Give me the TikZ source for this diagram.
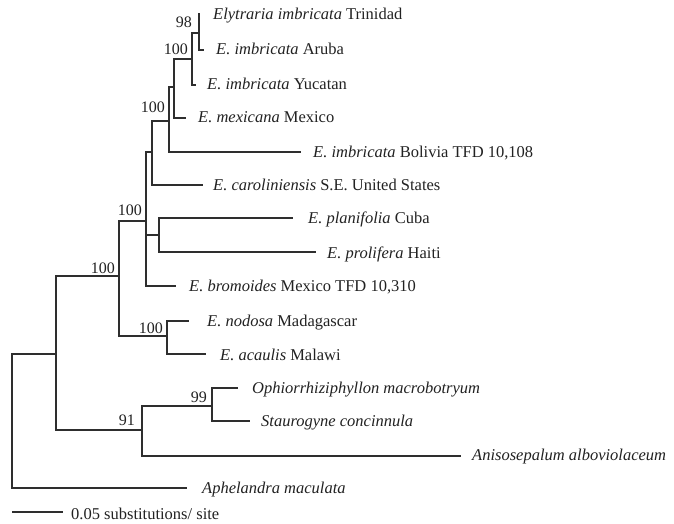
\documentclass[tikz,border=0pt]{standalone}
\usepackage{fontspec}
\setmainfont{Liberation Serif}
\definecolor{ink}{HTML}{222222}
\definecolor{branchc}{HTML}{2E2E2E}
\tikzset{
  leaf/.style={anchor=west, inner sep=0pt, text height=11pt, text depth=0pt, text=ink, font=\fontsize{16.5}{18}\selectfont},
  boot/.style={anchor=base east, inner sep=0pt, text=ink, font=\fontsize{16}{18}\selectfont},
  branch/.style={draw=branchc, line width=1.3pt, line cap=rect}
}
\begin{document}
\begin{tikzpicture}[x=1pt, y=-1pt]
\useasboundingbox[fill=white] (0,0) rectangle (674,524);
% internal nodes (x of vertical line, y of incoming branch)
\coordinate (R) at (12,421);
\coordinate (A) at (56,354);
\coordinate (B) at (119,276);
\coordinate (C) at (146,221);
\coordinate (D) at (152,152);
\coordinate (E) at (169,121);
\coordinate (F) at (174,87);
\coordinate (G) at (192,59);
\coordinate (H) at (199,33);
\coordinate (PP) at (159,235);
\coordinate (N) at (167,336);
\coordinate (Z) at (142,430);
\coordinate (Y) at (212,406);
% leaf tips
\coordinate (t1) at (199,14);
\coordinate (t2) at (203,50);
\coordinate (t3) at (195,85);
\coordinate (t4) at (185,118);
\coordinate (t5) at (300,152);
\coordinate (t6) at (202,185);
\coordinate (t7) at (292,218);
\coordinate (t8) at (315,252);
\coordinate (t9) at (175,286);
\coordinate (t10) at (188,321);
\coordinate (t11) at (205,354);
\coordinate (t12) at (237,388);
\coordinate (t13) at (249,421);
\coordinate (t14) at (460,456);
\coordinate (t15) at (186,488);
% leaf labels
\node[leaf] (L1) at (213,14) {\textit{Elytraria imbricata} Trinidad};
\node[leaf] (L2) at (216,49) {\textit{E. imbricata} Aruba};
\node[leaf] (L3) at (207,84) {\textit{E. imbricata} Yucatan};
\node[leaf] (L4) at (198,117) {\textit{E. mexicana} Mexico};
\node[leaf] (L5) at (313,152) {\textit{E. imbricata} Bolivia TFD 10,108};
\node[leaf] (L6) at (213,185) {\textit{E. caroliniensis} S.E. United States};
\node[leaf] (L7) at (308,218) {\textit{E. planifolia} Cuba};
\node[leaf] (L8) at (327,253) {\textit{E. prolifera} Haiti};
\node[leaf] (L9) at (189,286) {\textit{E. bromoides} Mexico TFD 10,310};
\node[leaf] (L10) at (207,321) {\textit{E. nodosa} Madagascar};
\node[leaf] (L11) at (220,355) {\textit{E. acaulis} Malawi};
\node[leaf] (L12) at (252,388) {\textit{Ophiorrhiziphyllon macrobotryum}};
\node[leaf] (L13) at (261,421) {\textit{Staurogyne concinnula}};
\node[leaf] (L14) at (472,455) {\textit{Anisosepalum alboviolaceum}};
\node[leaf] (L15) at (202,488) {\textit{Aphelandra maculata}};
% bootstrap values
\node[boot] (bB) at (115,273) {100};
\node[boot] (bC) at (142,215) {100};
\node[boot] (bE) at (165,113) {100};
\node[boot] (bG) at (188,55) {100};
\node[boot] (bH) at (192,28) {98};
\node[boot] (bN) at (163,333) {100};
\node[boot] (bZ) at (135,425) {91};
\node[boot] (bY) at (207,402) {99};
% branches
\draw[branch] (R) |- (A);
\draw[branch] (R) |- (t15);
\draw[branch] (A) |- (B);
\draw[branch] (A) |- (Z);
\draw[branch] (B) |- (C);
\draw[branch] (B) |- (N);
\draw[branch] (C) |- (D);
\draw[branch] (C) |- (PP);
\draw[branch] (C) |- (t9);
\draw[branch] (D) |- (E);
\draw[branch] (D) |- (t6);
\draw[branch] (E) |- (F);
\draw[branch] (E) |- (t5);
\draw[branch] (F) |- (G);
\draw[branch] (F) |- (t4);
\draw[branch] (G) |- (H);
\draw[branch] (G) |- (t3);
\draw[branch] (H) |- (t1);
\draw[branch] (H) |- (t2);
\draw[branch] (PP) |- (t7);
\draw[branch] (PP) |- (t8);
\draw[branch] (N) |- (t10);
\draw[branch] (N) |- (t11);
\draw[branch] (Z) |- (Y);
\draw[branch] (Z) |- (t14);
\draw[branch] (Y) |- (t12);
\draw[branch] (Y) |- (t13);
% scale bar
\coordinate (s1) at (13,512);
\coordinate (s2) at (62,512);
\draw[branch] (s1) -- (s2);
\node[leaf] (sc) at (71,514) {0.05 substitutions/ site};
\end{tikzpicture}
\end{document}
